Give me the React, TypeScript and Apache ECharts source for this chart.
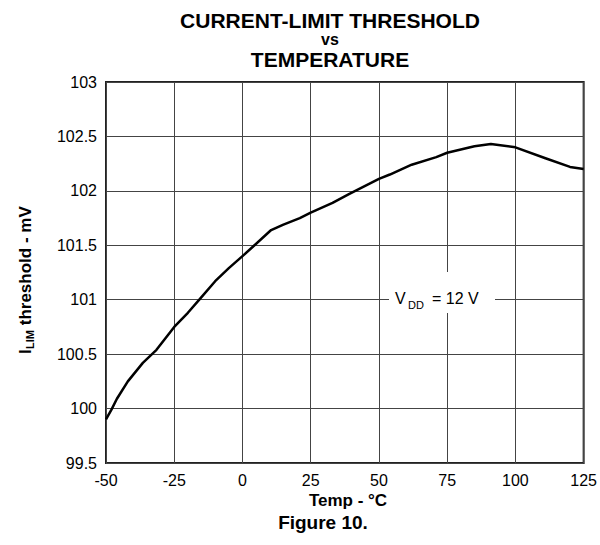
import React, { useEffect, useRef } from "react";
import * as echarts from "echarts";

const temps = [-50, -48, -46, -42, -36.5, -31.5, -25, -20, -15.5, -10, -5, 0, 4.4, 10.5, 15, 21, 25, 33, 39, 50, 54, 62, 71, 75, 85, 91, 100, 111, 120, 125];
const values = [99.9, 99.99, 100.09, 100.25, 100.42, 100.54, 100.75, 100.88, 101.01, 101.17, 101.29, 101.4, 101.5, 101.64, 101.69, 101.75, 101.8, 101.89, 101.97, 102.11, 102.15, 102.24, 102.31, 102.35, 102.41, 102.43, 102.4, 102.3, 102.22, 102.2];

const titleLines = ["CURRENT-LIMIT THRESHOLD", "vs", "TEMPERATURE"];
const xAxisName = "Temp - °C";
const caption = "Figure 10.";
const yNameParts = ["I", "LIM", " threshold - mV"];
const noteParts = ["V", "DD", "= 12 V"];

const FONT = "'Liberation Sans', Arial, Helvetica, sans-serif";

export default function App() {
  const ref = useRef<HTMLDivElement>(null);
  useEffect(() => {
    if (!ref.current) return;
    const chart = echarts.init(ref.current, null, { renderer: "svg" });
    const data = temps.map((t, i) => [t, values[i]]);
    chart.setOption({
      animation: false,
      backgroundColor: "#fff",
      grid: {
        left: 106,
        top: 82,
        width: 479,
        height: 381,
        show: true,
        borderColor: "#222",
        borderWidth: 2,
        backgroundColor: "transparent",
      },
      xAxis: {
        type: "value",
        min: -50,
        max: 125,
        interval: 25,
        axisLine: { show: false },
        axisTick: { show: false },
        splitLine: { show: true, lineStyle: { color: "#444", width: 1 } },
        axisLabel: { color: "#000", fontSize: 16, fontFamily: FONT, margin: 9 },
      },
      yAxis: {
        type: "value",
        min: 99.5,
        max: 103,
        interval: 0.5,
        axisLine: { show: false },
        axisTick: { show: false },
        splitLine: { show: true, lineStyle: { color: "#444", width: 1 } },
        axisLabel: { color: "#000", fontSize: 16, fontFamily: FONT, margin: 9 },
      },
      series: [
        {
          type: "line",
          data,
          symbol: "none",
          smooth: false,
          lineStyle: { color: "#000", width: 2.5, join: "round" },
          z: 5,
        },
      ],
      graphic: [
        { type: "text", x: 330, y: 20, z: 100, style: { text: titleLines[0], font: `bold 21px ${FONT}`, fill: "#000", align: "center", verticalAlign: "middle" } },
        { type: "text", x: 330, y: 39.5, z: 100, style: { text: titleLines[1], font: `bold 16px ${FONT}`, fill: "#000", align: "center", verticalAlign: "middle" } },
        { type: "text", x: 330, y: 59, z: 100, style: { text: titleLines[2], font: `bold 21px ${FONT}`, fill: "#000", align: "center", verticalAlign: "middle" } },
        { type: "text", x: 348, y: 500, z: 100, style: { text: xAxisName, font: `bold 17px ${FONT}`, fill: "#000", align: "center", verticalAlign: "middle" } },
        { type: "text", x: 323, y: 522, z: 100, style: { text: caption, font: `bold 19px ${FONT}`, fill: "#000", align: "center", verticalAlign: "middle" } },
        {
          type: "group",
          x: 25,
          y: 281,
          rotation: Math.PI / 2,
          z: 100,
          children: [
            { type: "text", x: -73, y: 0, z: 100, style: { text: yNameParts[0], font: `bold 17px ${FONT}`, fill: "#000", align: "left", verticalAlign: "middle" } },
            { type: "text", x: -68, y: 5, z: 100, style: { text: yNameParts[1], font: `bold 11px ${FONT}`, fill: "#000", align: "left", verticalAlign: "middle" } },
            { type: "text", x: -49, y: 0, z: 100, style: { text: yNameParts[2], font: `bold 17px ${FONT}`, fill: "#000", align: "left", verticalAlign: "middle" } },
          ],
        },
        { type: "rect", z: 90, shape: { x: 389, y: 272, width: 106, height: 41 }, style: { fill: "#fff" } },
        { type: "text", x: 395, y: 298, z: 100, style: { text: noteParts[0], font: `16px ${FONT}`, fill: "#000", align: "left", verticalAlign: "middle" } },
        { type: "text", x: 408, y: 305, z: 100, style: { text: noteParts[1], font: `11px ${FONT}`, fill: "#000", align: "left", verticalAlign: "middle" } },
        { type: "text", x: 432, y: 298, z: 100, style: { text: noteParts[2], font: `16px ${FONT}`, fill: "#000", align: "left", verticalAlign: "middle" } },
      ],
    });
    return () => chart.dispose();
  }, []);
  return (
    <div
      ref={ref}
      style={{ position: "fixed", left: 0, top: 0, width: 600, height: 545, background: "#fff" }}
    />
  );
}
